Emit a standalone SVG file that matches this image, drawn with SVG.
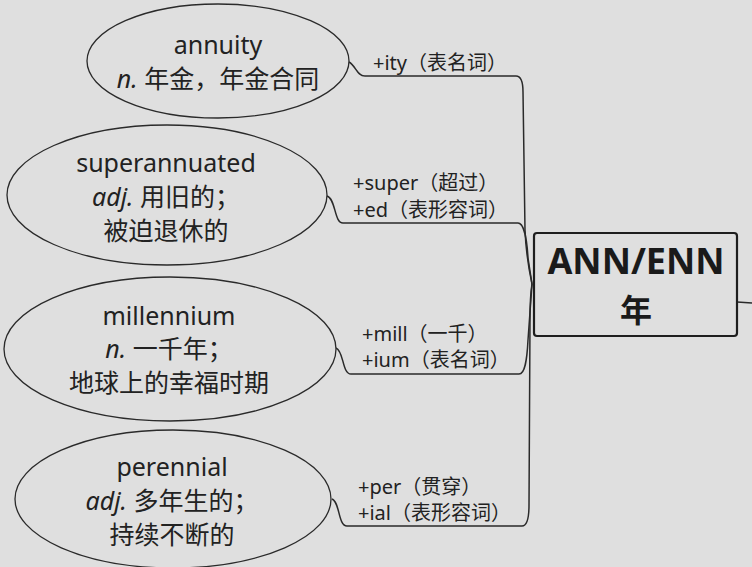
<svg xmlns="http://www.w3.org/2000/svg" width="752" height="567" viewBox="0 0 752 567">
<style>
.bg{fill:#dfdfdf}
.node{fill:#dfdfdf;stroke:#2a2a2a;stroke-width:1.3}
.t{font-family:"Noto Sans","Noto Sans CJK SC",sans-serif;font-size:25px;fill:#222;text-anchor:middle}
.i{font-style:italic}
.lbl{font-family:"Noto Sans","Noto Sans CJK SC",sans-serif;font-size:20px;fill:#222}
.conn path{fill:none;stroke:#2a2a2a;stroke-width:1.5}
.root{fill:#dfdfdf;stroke:#1e1e1e;stroke-width:2.2}
.rt{font-family:"Noto Sans","Noto Sans CJK SC",sans-serif;font-weight:700;fill:#1a1a1a;text-anchor:middle}
</style>
<rect class="bg" x="0" y="0" width="752" height="567"/>
<g id="connectors" class="conn">
<path d="M349,62 C356,66 357,76 365,76 L516,76 C521,76 523,82 523,92 L525,230 C526,255 529,270 532,284"/>
<path d="M327,196 C336,199 334,223 343,223 L518,223 C524,223 527,240 528,258 L532,284"/>
<path d="M336,348 C344,351 342,374 351,374 L519,374 C525,374 527,360 528,340 L532,284"/>
<path d="M332,499 C340,502 338,526 347,526 L522,526 C527,526 529,518 529,505 L530,320 C530,300 531,290 532,284"/>
<path d="M737,302 L752,303"/>
</g>
<g id="root">
<rect class="root" x="534" y="233" width="203" height="103" rx="3"/>
<text class="rt" x="636" y="274" font-size="36">ANN/ENN</text>
<text class="rt" x="636" y="322" font-size="32">年</text>
</g>
<g id="annuity">
<ellipse class="node" cx="218" cy="61" rx="131" ry="57"/>
<text class="t" x="218" y="54">annuity</text>
<text class="t" x="218" y="88"><tspan class="i">n.</tspan> 年金，年金合同</text>
</g>
<g id="superannuated">
<ellipse class="node" cx="167" cy="195" rx="160" ry="70"/>
<text class="t" x="166" y="172">superannuated</text>
<text class="t" x="166" y="206"><tspan class="i">adj.</tspan> 用旧的；</text>
<text class="t" x="166" y="240">被迫退休的</text>
</g>
<g id="millennium">
<ellipse class="node" cx="170" cy="349" rx="166" ry="72"/>
<text class="t" x="169" y="325">millennium</text>
<text class="t" x="169" y="358"><tspan class="i">n.</tspan> 一千年；</text>
<text class="t" x="169" y="392">地球上的幸福时期</text>
</g>
<g id="perennial">
<ellipse class="node" cx="173" cy="499" rx="158" ry="69"/>
<text class="t" x="172" y="476">perennial</text>
<text class="t" x="172" y="510"><tspan class="i">adj.</tspan> 多年生的；</text>
<text class="t" x="172" y="544">持续不断的</text>
</g>
<g id="labels">
<text class="lbl" x="373" y="70">+ity（表名词）</text>
<text class="lbl" x="353" y="190">+super（超过）</text>
<text class="lbl" x="353" y="217">+ed（表形容词）</text>
<text class="lbl" x="362" y="341">+mill（一千）</text>
<text class="lbl" x="362" y="367">+ium（表名词）</text>
<text class="lbl" x="358" y="494">+per（贯穿）</text>
<text class="lbl" x="358" y="520">+ial（表形容词）</text>
</g>
</svg>
